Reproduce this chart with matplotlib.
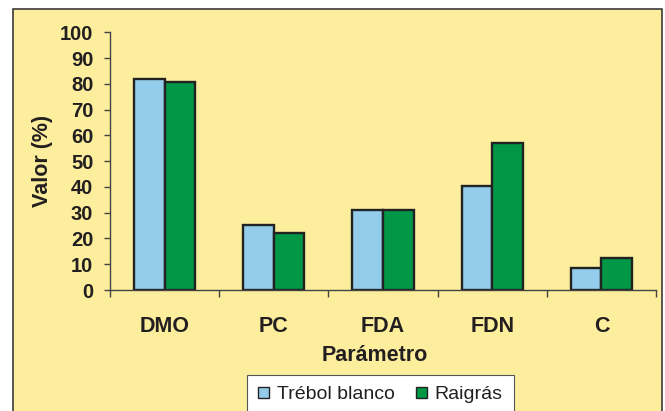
import numpy as np
import matplotlib.pyplot as plt
from matplotlib.patches import Rectangle

# Datos
parametros = ['DMO', 'PC', 'FDA', 'FDN', 'C']
trebol = [81.7, 25.3, 30.9, 40.3, 8.4]
raigras = [80.9, 22.0, 30.9, 57.1, 12.5]

fondo = '#FCEE9C'
azul = '#93CDEB'
verde = '#009746'
texto = '#231F20'

plt.rcParams['font.family'] = ['Liberation Sans', 'DejaVu Sans']

fig = plt.figure(figsize=(6.65, 4.11), dpi=100, facecolor='white')

# marco amarillo (detrás de los ejes)
fig.patches.append(Rectangle((12.5 / 665, -0.05), 649 / 665, 1.05 - 9 / 411,
                             transform=fig.transFigure, facecolor=fondo,
                             edgecolor='#3b3b3b', linewidth=1.2, zorder=-5))

ax = fig.add_axes([110 / 665, 1 - 290 / 411, 546 / 665, 257.7 / 411])
ax.patch.set_alpha(0)

x = np.arange(len(parametros))
w = 0.28
ax.bar(x - w / 2, trebol, w, color=azul, edgecolor='#222222', linewidth=1.7,
       label='Trébol blanco')
ax.bar(x + w / 2, raigras, w, color=verde, edgecolor='#222222', linewidth=1.7,
       label='Raigrás')

ax.set_xlim(-0.5, 4.5)
ax.set_ylim(0, 100)
ax.set_yticks(range(0, 101, 10))
ax.set_xticks(x)
ax.set_xticklabels(parametros, fontsize=15.5, fontweight='bold', color=texto)
ax.set_xticks(np.arange(-0.5, 5), minor=True)
ax.tick_params(axis='x', which='major', length=0, pad=19)
ax.tick_params(axis='x', which='minor', length=5, width=1, color='#444444')
ax.tick_params(axis='y', length=4, width=1, color='#444444', pad=8,
               labelsize=14.5, labelcolor=texto)
for lab in ax.get_yticklabels():
    lab.set_fontweight('bold')

for s in ['top', 'right']:
    ax.spines[s].set_visible(False)
for s in ['left', 'bottom']:
    ax.spines[s].set_color('#444444')
    ax.spines[s].set_linewidth(1)

ax.set_ylabel('Valor (%)', fontsize=15.5, fontweight='bold', color=texto)
ax.yaxis.set_label_coords(-0.104, 0.5)
ax.set_xlabel('Parámetro', fontsize=15.5, fontweight='bold', color=texto)
ax.xaxis.set_label_coords(0.485, -0.215)

leg = fig.legend(loc='upper left', bbox_to_anchor=(246.7 / 665, 1 - 374.7 / 411),
                 ncol=2, fontsize=14, frameon=True, fancybox=False,
                 edgecolor='#555555', framealpha=1, handlelength=0.55,
                 handleheight=0.55, handletextpad=0.4, columnspacing=1.1,
                 borderpad=0.6, borderaxespad=0)
leg.get_frame().set_linewidth(0.8)
for h in leg.legend_handles:
    h.set_linewidth(1)
for t in leg.get_texts():
    t.set_color(texto)

fig.savefig('out.png', dpi=100, facecolor='white')
